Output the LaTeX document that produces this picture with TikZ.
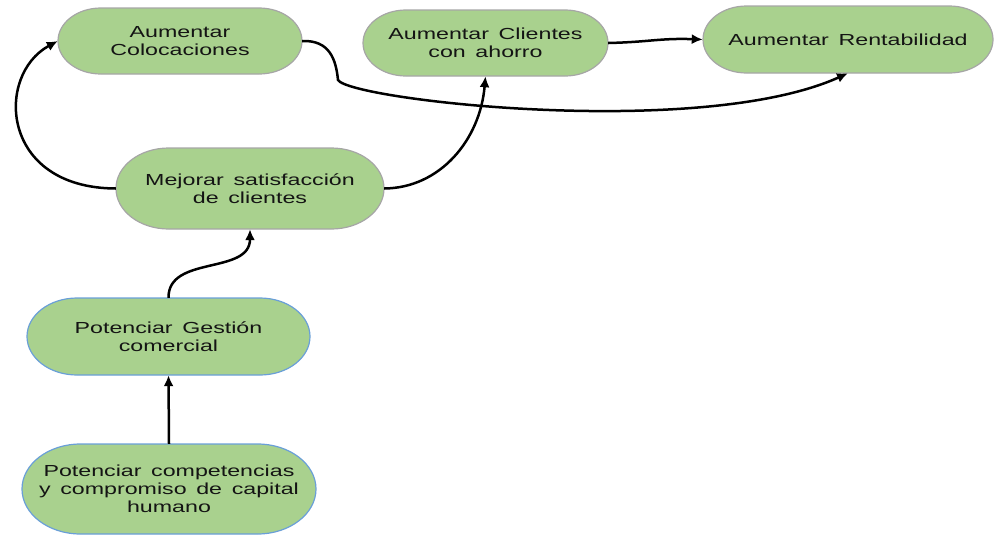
\documentclass[tikz,border=0pt]{standalone}
\usepackage{fontspec}
\setmainfont{Liberation Sans}[FakeStretch=1.45, WordSpace=1.5]
\usetikzlibrary{arrows.meta}

\definecolor{pillfill}{HTML}{A9D18E}
\definecolor{pillgray}{HTML}{A6A6A6}
\definecolor{pillblue}{HTML}{6A9FD8}
\definecolor{inktext}{HTML}{141414}

\tikzset{
  pillbox/.style={fill=pillfill, line width=1.2pt},
  pilltext/.style={draw=none, align=center, inner sep=0pt, text=inktext,
    font=\fontsize{16}{18}\selectfont},
  link/.style={line width=2.5pt, -{Latex[length=11pt,width=10pt]}}
}

% \pill{name}{cx}{cy}{width}{height}{border}{text}
% a stadium with elliptical ends, plus a named text node on top of it
\newcommand\pill[7]{%
  \pgfmathsetmacro\pw{#4/2}%
  \pgfmathsetmacro\ph{#5/2}%
  \pgfmathsetmacro\prx{1.3*#5/2}%
  \draw[pillbox, draw=#6]
    (#2-\pw+\prx, #3+\ph) -- (#2+\pw-\prx, #3+\ph)
    arc[start angle=90, end angle=-90, x radius=\prx pt, y radius=\ph pt]
    -- (#2-\pw+\prx, #3-\ph)
    arc[start angle=270, end angle=90, x radius=\prx pt, y radius=\ph pt]
    -- cycle;
  \node[pilltext, minimum width=#4pt, minimum height=#5pt] (#1) at (#2,#3) {#7};%
}

\begin{document}
\begin{tikzpicture}[x=1pt, y=1pt]
  \useasboundingbox (0,0) rectangle (995,-536);

  \pill{coloc}{180}{-41}{244}{66}{pillgray}{Aumentar\\Colocaciones}
  \pill{ahorro}{485.5}{-43}{245}{66}{pillgray}{Aumentar Clientes\\con ahorro}
  \pill{rentab}{848}{-39.5}{290}{67}{pillgray}{Aumentar Rentabilidad}
  \pill{satisf}{250}{-188.5}{268}{81}{pillgray}{Mejorar satisfacción\\de clientes}
  \pill{gestion}{168.5}{-336.5}{283}{77}{pillblue}{Potenciar Gestión\\comercial}
  \pill{capital}{169}{-489}{294}{90}{pillblue}{Potenciar competencias\\y compromiso de capital\\humano}

  % connectors
  \draw[link] (satisf.west) .. controls (0,-188) and (-5,-75) .. (coloc.west);
  \draw[link] (satisf.east) .. controls (440,-188) and (480,-140) .. (ahorro.south);
  \draw[link] (coloc.east) .. controls (330,-40) and (336,-60) .. (338,-80)
    .. controls (350,-100) and (700,-140) .. (rentab.south);
  \draw[link] (ahorro.east) .. controls (650,-42) and (660,-38) .. (rentab.west);
  \draw[link] (gestion.north) .. controls (168,-255) and (250,-275) .. (satisf.south);
  \draw[link] (capital.north) -- (gestion.south);
\end{tikzpicture}
\end{document}
